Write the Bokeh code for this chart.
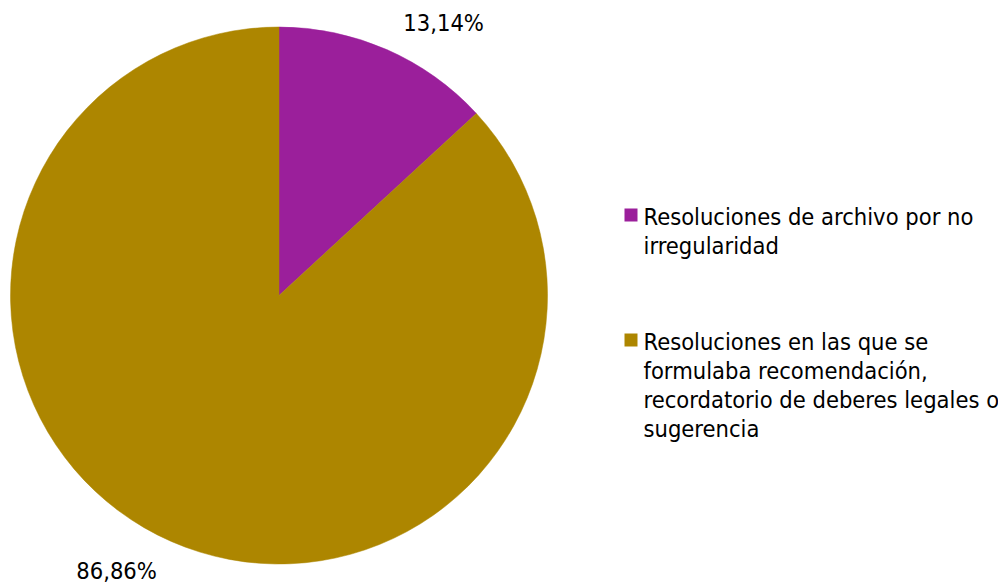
import numpy as np
from bokeh.plotting import figure
from bokeh.models import Range1d, ColumnDataSource
from bokeh.core.properties import value
from bokeh.embed import file_html
from bokeh.resources import INLINE

# ---- data ----
categories = [
    "Resoluciones de archivo por no\nirregularidad",
    "Resoluciones en las que se\nformulaba recomendación,\nrecordatorio de deberes legales o\nsugerencia",
]
shares = [13.14, 86.86]
share_labels = ["13,14%", "86,86%"]
colors = ["#9B1F9B", "#AD8600"]

# ---- layout ----
W, H = 998, 586
CX, CY, R = 278.5, H - 295.0, 268.5
FONT = "DejaVu Sans Condensed"
FS = "23.5px"

p = figure(width=W, height=H, x_range=Range1d(0, W), y_range=Range1d(0, H),
           output_backend="svg", toolbar_location=None, min_border=0)
p.axis.visible = False
p.grid.visible = False
p.outline_line_color = None
p.background_fill_color = "white"
p.border_fill_color = "white"

frac = np.array(shares) / np.sum(shares)
cum = np.concatenate([[0], np.cumsum(frac)])
start = np.pi / 2 - 2 * np.pi * cum[:-1]
end = np.pi / 2 - 2 * np.pi * cum[1:]

src = ColumnDataSource(dict(start=start, end=end, color=colors))
p.wedge(x=CX, y=CY, radius=R, start_angle="start", end_angle="end",
        direction="clock", fill_color="color", line_color="color", line_width=0.5, source=src)

# data labels (outside end, Excel-like placement)
mid = (start + end) / 2
label_shift = np.radians([-7.45, -6.9])
label_r = np.array([318.7, 319.5])
lx = CX + label_r * np.cos(mid + label_shift)
ly = CY + label_r * np.sin(mid + label_shift)
p.text(x=lx, y=ly, text=share_labels, text_font=value(FONT), text_font_size=FS,
       text_align="center", text_baseline="middle", text_color="#000000")

# legend
leg_x = 630.5
leg_y = H - np.array([214.5, 339.5])
p.rect(x=leg_x, y=leg_y, width=13, height=13, fill_color=colors, line_color=None)
p.text(x=leg_x + 12.5, y=leg_y + 12.5, text=categories, text_font=value(FONT),
       text_font_size=FS, text_align="left", text_baseline="top",
       text_line_height=1.04, text_color="#000000")

open("out.html", "w").write(file_html(p, INLINE))
